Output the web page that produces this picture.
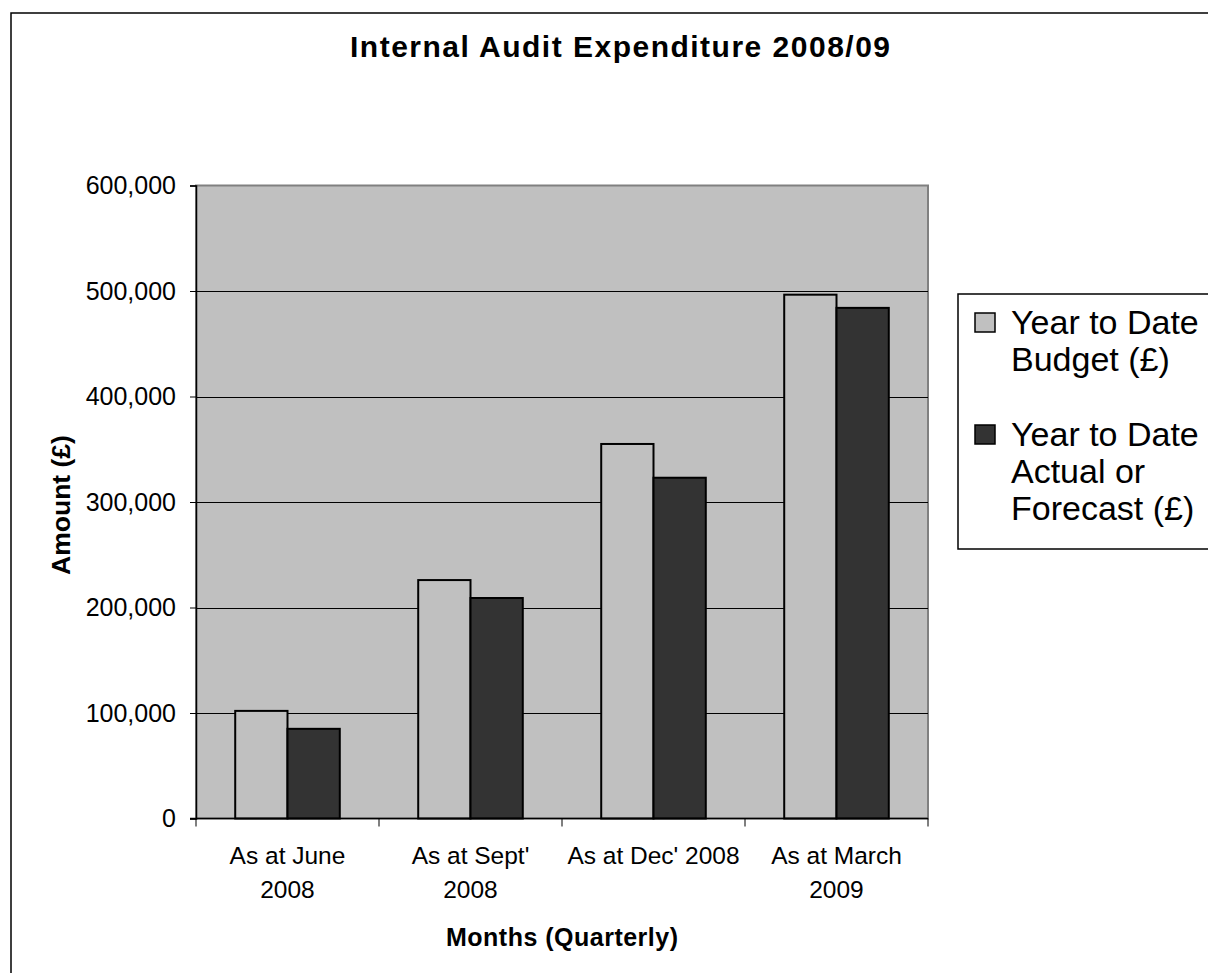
<!DOCTYPE html>
<html>
<head>
<meta charset="utf-8">
<script src="https://cdn.jsdelivr.net/npm/d3@7"></script>
<style>
  body { margin: 0; background: #fff; }
  svg { display: block; font-family: "Liberation Sans", Arial, sans-serif; }
</style>
</head>
<body>
<div id="main-chart"></div>
<script>
const categories = [
  ["As at June", "2008"],
  ["As at Sept'", "2008"],
  ["As at Dec' 2008"],
  ["As at March", "2009"],
];
const seriesNames = ["Year to Date Budget (£)", "Year to Date Actual or Forecast (£)"];
const legendLines = [
  ["Year to Date", "Budget (£)"],
  ["Year to Date", "Actual or", "Forecast (£)"],
];
const budget = [102000, 226000, 355000, 496500];
const actual = [85000, 209000, 323000, 484000];
const yTicks = [0, 100000, 200000, 300000, 400000, 500000, 600000];

const width = 1208;
const height = 973;
const plot = { left: 196, right: 928, top: 185.5, bottom: 818.5 };
const colors = ["#c0c0c0", "#333333"];

const svg = d3
  .select("#main-chart")
  .append("svg")
  .attr("width", width)
  .attr("height", height);

// outer chart border (runs off the page on right and bottom)
svg
  .append("rect")
  .attr("x", 11)
  .attr("y", 13)
  .attr("width", 1240)
  .attr("height", 1000)
  .attr("fill", "#fff")
  .attr("stroke", "#000")
  .attr("stroke-width", 1.5);

svg
  .append("text")
  .attr("x", 620)
  .attr("y", 57)
  .attr("text-anchor", "middle")
  .attr("font-size", 30)
  .attr("font-weight", "bold")
  .attr("textLength", 540)
  .attr("lengthAdjust", "spacing")
  .text("Internal Audit Expenditure 2008/09");

const keys = categories.map((c) => c.join(" "));

const x0 = d3
  .scaleBand()
  .domain(keys)
  .range([plot.left, plot.right])
  .padding(0);

const x1 = d3
  .scaleBand()
  .domain(seriesNames)
  .range([0, x0.bandwidth()])
  .paddingInner(0)
  .paddingOuter(0.75);

const yScale = d3
  .scaleLinear()
  .domain([0, 600000])
  .range([plot.bottom, plot.top]);

// plot area
svg
  .append("rect")
  .attr("x", plot.left)
  .attr("y", plot.top)
  .attr("width", plot.right - plot.left)
  .attr("height", plot.bottom - plot.top)
  .attr("fill", "#c0c0c0")
  .attr("stroke", "#808080")
  .attr("stroke-width", 2);

// gridlines
svg
  .append("g")
  .selectAll("line")
  .data(yTicks.slice(1, -1))
  .join("line")
  .attr("x1", plot.left)
  .attr("x2", plot.right)
  .attr("y1", (d) => Math.round(yScale(d)) + 0.5)
  .attr("y2", (d) => Math.round(yScale(d)) + 0.5)
  .attr("stroke", "#000")
  .attr("stroke-width", 1);

// bars
const rows = keys.map((k, i) => ({ key: k, values: [budget[i], actual[i]] }));

svg
  .append("g")
  .selectAll("g")
  .data(rows)
  .join("g")
  .attr("transform", (d) => `translate(${x0(d.key)},0)`)
  .selectAll("rect")
  .data((d) => d.values.map((v, j) => ({ name: seriesNames[j], value: v, j })))
  .join("rect")
  .attr("x", (d) => x1(d.name))
  .attr("y", (d) => yScale(d.value))
  .attr("width", x1.bandwidth())
  .attr("height", (d) => yScale(0) - yScale(d.value))
  .attr("fill", (d) => colors[d.j])
  .attr("stroke", "#000")
  .attr("stroke-width", 2);

// y axis
const yAxis = d3
  .axisLeft(yScale)
  .tickValues(yTicks)
  .tickSize(6)
  .tickPadding(14)
  .tickFormat(d3.format(","));

svg
  .append("g")
  .attr("transform", `translate(${plot.left},0)`)
  .call(yAxis)
  .call((g) => g.select(".domain").attr("stroke", "#000").attr("stroke-width", 1.5))
  .call((g) => g.selectAll(".tick line").attr("stroke", "#000"))
  .call((g) =>
    g
      .selectAll(".tick text")
      .attr("font-size", 25)
      .attr("font-family", "Liberation Sans, Arial, sans-serif")
      .attr("fill", "#000")
  );

// x axis line and boundary ticks
const xAxisG = svg.append("g");
xAxisG
  .append("line")
  .attr("x1", plot.left - 6)
  .attr("x2", plot.right)
  .attr("y1", plot.bottom)
  .attr("y2", plot.bottom)
  .attr("stroke", "#000")
  .attr("stroke-width", 1.5);

xAxisG
  .selectAll(".xtick")
  .data(keys.map((k) => x0(k)).concat([x0.range()[1]]))
  .join("line")
  .attr("class", "xtick")
  .attr("x1", (d) => d)
  .attr("x2", (d) => d)
  .attr("y1", plot.bottom)
  .attr("y2", plot.bottom + 8)
  .attr("stroke", "#000");

xAxisG
  .selectAll(".xlabel")
  .data(categories)
  .join("text")
  .attr("class", "xlabel")
  .attr("text-anchor", "middle")
  .attr("font-size", 24.5)
  .attr("x", (d, i) => x0(keys[i]) + x0.bandwidth() / 2)
  .attr("y", 864)
  .selectAll("tspan")
  .data((d, i) => d.map((t) => ({ t, x: x0(keys[i]) + x0.bandwidth() / 2 })))
  .join("tspan")
  .attr("x", (d) => d.x)
  .attr("dy", (d, i) => (i === 0 ? 0 : 34))
  .text((d) => d.t);

// axis titles
svg
  .append("text")
  .attr("x", (plot.left + plot.right) / 2)
  .attr("y", 946)
  .attr("text-anchor", "middle")
  .attr("font-size", 25)
  .attr("font-weight", "bold")
  .attr("textLength", 232)
  .attr("lengthAdjust", "spacing")
  .text("Months (Quarterly)");

svg
  .append("text")
  .attr("transform", "translate(70,505) rotate(-90)")
  .attr("text-anchor", "middle")
  .attr("font-size", 26.5)
  .attr("font-weight", "bold")
  .text("Amount (£)");

// legend
const legend = svg.append("g");
legend
  .append("rect")
  .attr("x", 958)
  .attr("y", 294)
  .attr("width", 300)
  .attr("height", 255)
  .attr("fill", "#fff")
  .attr("stroke", "#000")
  .attr("stroke-width", 1.5);

const legendTop = [334, 446];
const lineH = 37;

const items = legend
  .selectAll(".item")
  .data(legendLines)
  .join("g")
  .attr("class", "item");

items
  .append("rect")
  .attr("x", 975)
  .attr("y", (d, i) => legendTop[i] - 21)
  .attr("width", 20)
  .attr("height", 19)
  .attr("fill", (d, i) => colors[i])
  .attr("stroke", "#000")
  .attr("stroke-width", 1.5);

items
  .append("text")
  .attr("font-size", 34)
  .attr("y", (d, i) => legendTop[i])
  .selectAll("tspan")
  .data((d) => d)
  .join("tspan")
  .attr("x", 1011)
  .attr("dy", (d, i) => (i === 0 ? 0 : lineH))
  .text((d) => d);
</script>
</body>
</html>
